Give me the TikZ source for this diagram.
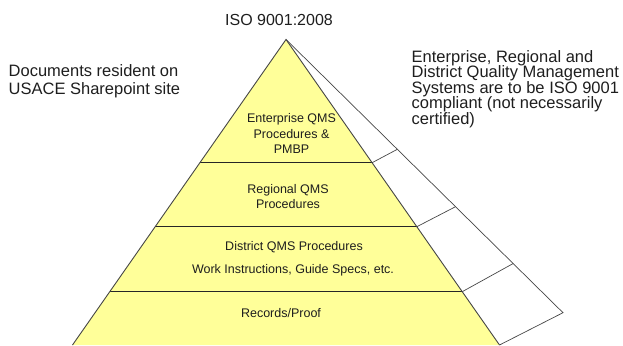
\documentclass[tikz,border=0pt]{standalone}
\usepackage{fontspec}
\setmainfont{Liberation Sans}
\usetikzlibrary{calc}
\definecolor{pyrfill}{RGB}{255,255,153}
\definecolor{edgegray}{RGB}{70,70,70}
\definecolor{txt}{RGB}{30,30,30}
\begin{document}
\begin{tikzpicture}[x=1pt,y=-1pt,
  edge/.style={draw=edgegray, line width=0.9pt},
  levelline/.style={draw=black!85, line width=1.2pt},
  sideline/.style={draw=edgegray, line width=0.7pt},
  outertext/.style={font=\fontsize{16.5}{15.5}\selectfont, text=txt, inner sep=0pt, align=left, anchor=base west},
  innertext/.style={font=\fontsize{12.5}{15}\selectfont, text=txt, inner sep=0pt, anchor=base},
]
\useasboundingbox (0,0) rectangle (623,345);
\coordinate (apex) at (286,39.5);
\coordinate (bl) at (72.5,345);
\coordinate (br) at (499.5,345);
\coordinate (so) at (563,312.7);
% level points on pyramid edges
\coordinate (l1) at ($(apex)!0.4033!(bl)$);
\coordinate (r1) at ($(apex)!0.4033!(br)$);
\coordinate (l2) at ($(apex)!0.6128!(bl)$);
\coordinate (r2) at ($(apex)!0.6128!(br)$);
\coordinate (l3) at ($(apex)!0.8255!(bl)$);
\coordinate (r3) at ($(apex)!0.8255!(br)$);
% points on the outer edge of the side face
\coordinate (s1) at ($(apex)!0.4019!(so)$);
\coordinate (s2) at ($(apex)!0.6120!(so)$);
\coordinate (s3) at ($(apex)!0.8200!(so)$);
% pyramid
\fill[pyrfill] (apex) -- (bl) -- (br) -- cycle;
% side face
\draw[sideline] (apex) -- (so) -- (br);
\draw[sideline] (r1) -- (s1);
\draw[sideline] (r2) -- (s2);
\draw[sideline] (r3) -- (s3);
% level lines
\draw[levelline] (l1) -- (r1);
\draw[levelline] (l2) -- (r2);
\draw[levelline] (l3) -- (r3);
% pyramid edges
\draw[edge] (bl) -- (apex) -- (br);
% texts
\node[font=\fontsize{16}{18}\selectfont, text=txt, inner sep=0pt, anchor=base] (iso) at (279,26) {ISO 9001:2008};
\node[outertext] (docs) at (8.5,94.3) {Documents resident on\\[2.2pt]USACE Sharepoint site};
\node[outertext] (compl) at (411.5,124) {Enterprise, Regional and\\District Quality Management\\Systems are to be ISO 9001\\compliant (not necessarily\\certified)};
\node[innertext] (ent1) at (291.5,122.7) {Enterprise QMS};
\node[innertext] (ent2) at (291.5,138.5) {Procedures \&};
\node[innertext] (ent3) at (291.5,153) {PMBP};
\node[innertext] (reg1) at (288,193.3) {Regional QMS};
\node[innertext] (reg2) at (288,208.3) {Procedures};
\node[innertext] (dis1) at (294,250) {District QMS Procedures};
\node[innertext] (dis2) at (293,273.3) {Work Instructions, Guide Specs, etc.};
\node[innertext] (rec) at (281,317.3) {Records/Proof};
\end{tikzpicture}
\end{document}
